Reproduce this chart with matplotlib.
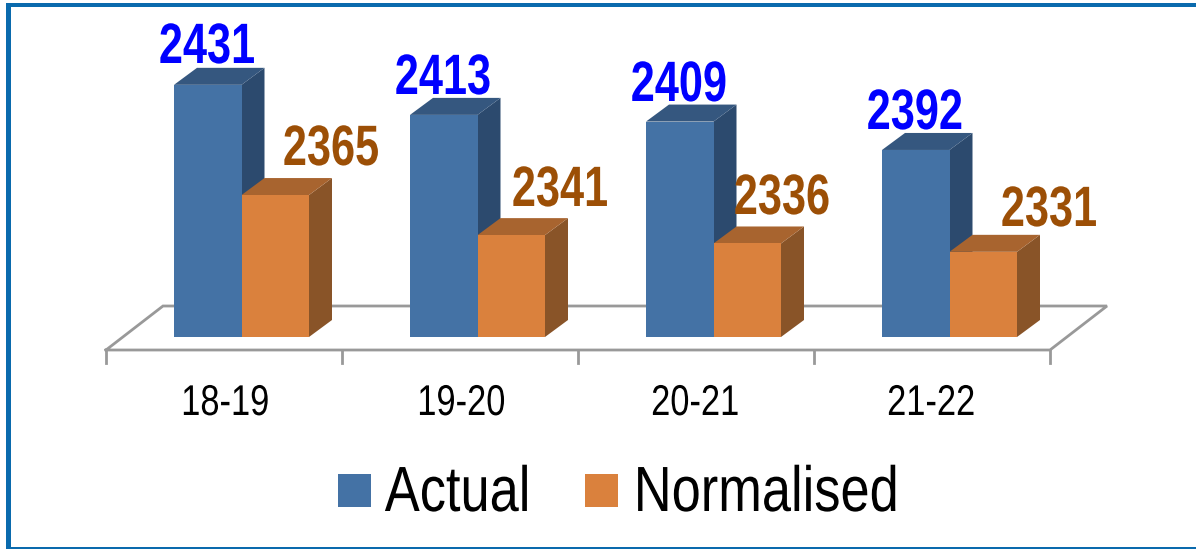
import matplotlib
matplotlib.use('Agg')
import matplotlib.pyplot as plt
from matplotlib.patches import Polygon, Rectangle
from matplotlib.patheffects import AbstractPathEffect
from matplotlib.transforms import Affine2D

categories = ['18-19', '19-20', '20-21', '21-22']
actual = [2431, 2413, 2409, 2392]
normalised = [2365, 2341, 2336, 2331]

W, H = 1196, 549
PX_X = 236.0    # pixels per category
PX_Y = 1.67     # pixels per unit
BASE = 2280     # value sitting on the bar base
BASE_PX = 337
LEFT_PX = 106

plt.rcParams['font.family'] = ['Liberation Sans']


class Squeeze(AbstractPathEffect):
    # narrow the glyphs about their own centre, no condensed font is installed
    def __init__(self, sx):
        super().__init__()
        self.sx = sx

    def draw_path(self, renderer, gc, tpath, affine, rgbFace=None):
        box = tpath.get_extents(affine)
        cx = (box.x0 + box.x1) / 2
        squeeze = Affine2D().translate(-cx, 0).scale(self.sx, 1).translate(cx, 0)
        renderer.draw_path(gc, tpath, affine + squeeze, rgbFace)


fig = plt.figure(figsize=(W / 100, H / 100), dpi=100, facecolor='white')
ax = fig.add_axes([0, 0, 1, 1])
ax.set_xlim(-LEFT_PX / PX_X, (W - LEFT_PX) / PX_X)
ax.set_ylim(BASE - (H - BASE_PX) / PX_Y, BASE + BASE_PX / PX_Y)
ax.axis('off')

# depth of the fake 3d extrusion, in data units
dx = 23 / PX_X
dy = 17 / PX_Y
bar_w = 67.5 / PX_X
offset = 68 / PX_X


def bar3d(x, val, front, top, side):
    ax.add_patch(Polygon([(x + bar_w, BASE), (x + bar_w + dx, BASE + dy),
                          (x + bar_w + dx, val + dy), (x + bar_w, val)],
                         facecolor=side, edgecolor='none', zorder=3))
    ax.add_patch(Polygon([(x, val), (x + dx, val + dy),
                          (x + bar_w + dx, val + dy), (x + bar_w, val)],
                         facecolor=top, edgecolor='none', zorder=3))
    ax.add_patch(Rectangle((x, BASE), bar_w, val - BASE,
                           facecolor=front, edgecolor='none', zorder=4))


def px_text(px, py, s, sx, **kw):
    # place text by figure pixel, measured from the top left, on its baseline
    t = ax.text(px / W, 1 - py / H, s, transform=ax.transAxes, ha='center',
                va='baseline', zorder=6, **kw)
    t.set_path_effects([Squeeze(sx)])
    return t


# floor of the chart
floor_y = BASE - 13 / PX_Y
back_y = BASE + 31 / PX_Y
floor_dx = 57 / PX_X
n = len(categories)
ax.plot([0, floor_dx, n + floor_dx, n, 0],
        [floor_y, back_y, back_y, floor_y, floor_y],
        color='#999999', lw=2, solid_joinstyle='miter', zorder=1)
for i in range(n + 1):
    ax.plot([i, i], [floor_y, floor_y - 13 / PX_Y], color='#999999', lw=2, zorder=1)

for i, cat in enumerate(categories):
    x1 = i + offset
    x2 = x1 + bar_w
    bar3d(x1, actual[i], '#4472A5', '#35577F', '#2C4A6E')
    bar3d(x2, normalised[i], '#DA813D', '#A8642F', '#895428')

# category labels
for px, cat in zip([225, 461, 695, 931], categories):
    px_text(px, 415, cat, 0.80, fontsize=31, color='black')

# value labels sit by hand above each bar
actual_lab = [(207, 63), (443, 94), (679, 101), (915, 129)]
norm_lab = [(331, 165), (560, 206), (782, 214), (1049, 226)]
for (px, py), v in zip(actual_lab, actual):
    px_text(px, py, str(v), 0.76, fontsize=41, fontweight='bold', color='#0000FF')
for (px, py), v in zip(norm_lab, normalised):
    px_text(px, py, str(v), 0.76, fontsize=41, fontweight='bold', color='#9C4F06')

# legend
for px, col, lab, tx in [(338, '#4472A5', 'Actual', 458), (585, '#DA813D', 'Normalised', 766)]:
    ax.add_patch(Rectangle((px / W, 1 - 507 / H), 33 / W, 33 / H, transform=ax.transAxes,
                           facecolor=col, edgecolor='none'))
    px_text(tx, 511, lab, 0.82, fontsize=46, color='black')

# frame on the top, left and bottom edges only
frame = '#0A6AAD'
for x0, y0, w, h in [(6, 3, W - 6, 4), (6, 3, 5, H - 3), (6, H - 2, W - 6, 2)]:
    ax.add_patch(Rectangle((x0 / W, 1 - (y0 + h) / H), w / W, h / H, transform=ax.transAxes,
                           facecolor=frame, edgecolor='none', zorder=8))

fig.savefig('out.png', dpi=100)
